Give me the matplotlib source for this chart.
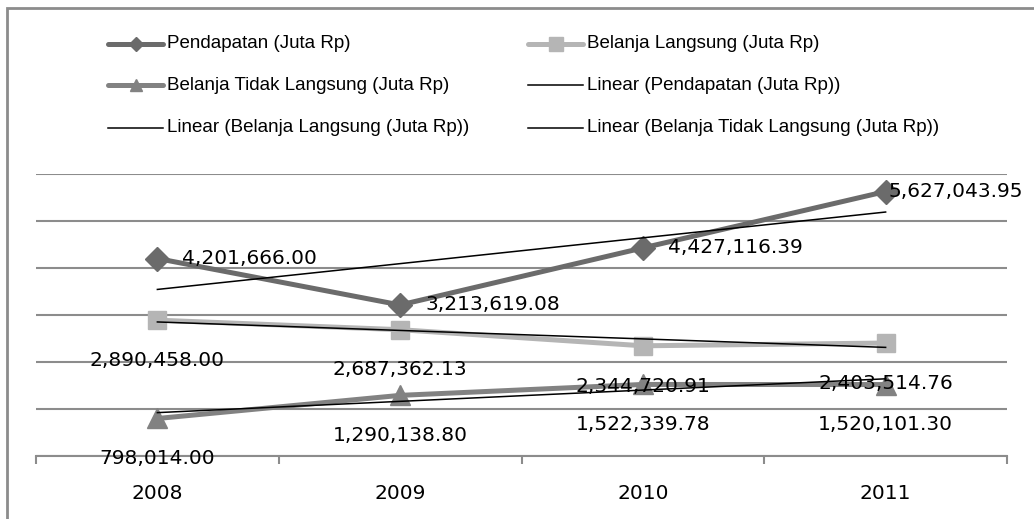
import numpy as np
import matplotlib
matplotlib.use("Agg")
import matplotlib.pyplot as plt
from matplotlib.lines import Line2D
from matplotlib.patches import Rectangle

plt.rcParams['font.family'] = ['Liberation Sans', 'DejaVu Sans']

# data (Juta Rp)
tahun = ['2008', '2009', '2010', '2011']
pendapatan = [4201666.00, 3213619.08, 4427116.39, 5627043.95]
belanja_langsung = [2890458.00, 2687362.13, 2344720.91, 2403514.76]
belanja_tidak_langsung = [798014.00, 1290138.80, 1522339.78, 1520101.30]

names = ['Pendapatan (Juta Rp)', 'Belanja Langsung (Juta Rp)',
         'Belanja Tidak Langsung (Juta Rp)']

W, H = 1034, 519
fig = plt.figure(figsize=(W / 100, H / 100), dpi=100)
ax = fig.add_axes([36 / W, 63 / H, (1007 - 36) / W, 282 / H])

x = np.arange(1, len(tahun) + 1)
gray = '#8c8c8c'
NUM_FONT = dict(family='DejaVu Sans', fontsize=14.5)
LEG_FS = 13.5

series = [
    (pendapatan, '#6b6b6b', 'D', 12, 7),
    (belanja_langsung, '#b5b5b5', 's', 13, 10),
    (belanja_tidak_langsung, '#828282', '^', 14, 9),
]

for vals, col, mk, ms, _ in series:
    ax.plot(x, vals, color=col, lw=3.6, marker=mk, ms=ms, mec=col, mfc=col,
            zorder=3, solid_capstyle='round')

# linear trend lines
for vals, *_ in series:
    k, b = np.polyfit(x, vals, 1)
    ax.plot(x, k * x + b, color='black', lw=1.1, zorder=4)

# value labels
right_off = [18, 18, 18, 2]
for xi, v, dx in zip(x, pendapatan, right_off):
    ax.annotate(f'{v:,.2f}', (xi, v), xytext=(dx, 0), textcoords='offset points',
                ha='left', va='center', zorder=5, **NUM_FONT)
for vals in (belanja_langsung, belanja_tidak_langsung):
    for xi, v in zip(x, vals):
        ax.annotate(f'{v:,.2f}', (xi, v), xytext=(0, -29), textcoords='offset points',
                    ha='center', va='center', zorder=5, **NUM_FONT)

ax.set_xlim(0.5, 4.5)
ax.set_ylim(0, 6000000)
ax.set_yticks(np.arange(0, 6000001, 1000000))
ax.yaxis.grid(True, color=gray, lw=1.5)
ax.set_axisbelow(True)
ax.tick_params(axis='y', left=False, labelleft=False)
for s in ('top', 'right', 'left'):
    ax.spines[s].set_visible(False)
ax.spines['bottom'].set_color(gray)
ax.spines['bottom'].set_linewidth(1.5)

ax.set_xticks(np.arange(0.5, 4.6, 1))
ax.set_xticklabels([])
ax.tick_params(axis='x', which='major', length=6, width=1.5, color=gray, direction='out')
ax.set_xticks(x, minor=True)
ax.set_xticklabels(tahun, minor=True, **NUM_FONT)
ax.tick_params(axis='x', which='minor', length=0, pad=20)

# legend drawn by hand in pixel positions
entries = [
    (names[0], series[0]), (names[1], series[1]),
    (names[2], series[2]), ('Linear (' + names[0] + ')', None),
    ('Linear (' + names[1] + ')', None), ('Linear (' + names[2] + ')', None),
]
cols = [108, 528]
rows = [44, 85, 128]
for i, (label, s) in enumerate(entries):
    x0 = cols[i % 2]
    y0 = H - rows[i // 2]
    if s is None:
        fig.add_artist(Line2D([x0 / W, (x0 + 55) / W], [y0 / H, y0 / H],
                              color='black', lw=1.1, transform=fig.transFigure))
    else:
        vals, col, mk, ms, lms = s
        fig.add_artist(Line2D([x0 / W, (x0 + 55) / W], [y0 / H, y0 / H],
                              color=col, lw=3.6, solid_capstyle='round',
                              transform=fig.transFigure))
        fig.add_artist(Line2D([(x0 + 27.5) / W], [y0 / H], marker=mk, ms=lms,
                              color=col, transform=fig.transFigure))
    fig.text((x0 + 59) / W, y0 / H, label, fontsize=LEG_FS, va='center', ha='left')

# chart border
fig.add_artist(Rectangle((7 / W, -0.1), 1.2, (H - 8) / H + 0.1, fill=False,
                         edgecolor=gray, lw=2, transform=fig.transFigure))

fig.savefig('out.png', dpi=100)
